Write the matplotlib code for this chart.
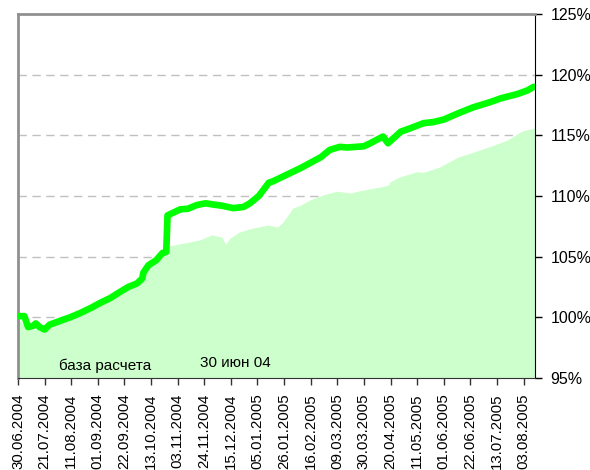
import numpy as np
import pandas as pd
import matplotlib
matplotlib.use('Agg')
from matplotlib import pyplot as plt
import matplotlib.dates as mdates
from matplotlib.ticker import FixedLocator, FuncFormatter

# green line (fund value, % of base)
line_dates = ['2004-06-30','2004-07-05','2004-07-08','2004-07-12','2004-07-14','2004-07-17',
              '2004-07-21','2004-07-25','2004-08-02','2004-08-10','2004-08-18','2004-08-27',
              '2004-09-03','2004-09-11','2004-09-17','2004-09-25','2004-10-02','2004-10-06',
              '2004-10-07','2004-10-11','2004-10-17','2004-10-22','2004-10-25','2004-10-26',
              '2004-10-28','2004-11-05','2004-11-11','2004-11-18','2004-11-25','2004-12-01',
              '2004-12-08','2004-12-17','2004-12-25','2004-12-30','2005-01-06','2005-01-14',
              '2005-01-17','2005-01-25','2005-02-02','2005-02-08','2005-02-24','2005-03-03',
              '2005-03-11','2005-03-17','2005-03-30','2005-04-04','2005-04-14','2005-04-18',
              '2005-04-28','2005-05-06','2005-05-16','2005-05-24','2005-06-01','2005-06-12',
              '2005-06-24','2005-07-08','2005-07-16','2005-07-29','2005-08-06','2005-08-11']
line_vals  = [100.1, 100.1, 99.2, 99.3, 99.5, 99.2,
              99.0, 99.4, 99.7, 100.0, 100.35, 100.8,
              101.2, 101.6, 102.0, 102.5, 102.8, 103.2,
              103.7, 104.3, 104.7, 105.3, 105.4, 108.4,
              108.5, 108.9, 108.95, 109.25, 109.4, 109.3,
              109.2, 109.0, 109.1, 109.4, 110.0, 111.1,
              111.2, 111.6, 112.0, 112.3, 113.2, 113.8,
              114.05, 114.0, 114.1, 114.35, 114.9, 114.35,
              115.3, 115.6, 116.0, 116.1, 116.3, 116.8,
              117.3, 117.75, 118.05, 118.4, 118.7, 119.0]

# light green area (benchmark)
area_dates = ['2004-06-30','2004-07-08','2004-07-21','2004-08-02','2004-08-18','2004-09-03',
              '2004-09-17','2004-10-02','2004-10-07','2004-10-17','2004-10-25','2004-10-28',
              '2004-11-07','2004-11-21','2004-11-30','2004-12-08','2004-12-11','2004-12-14',
              '2004-12-21','2004-12-30','2005-01-13','2005-01-21','2005-01-25','2005-02-02',
              '2005-02-08','2005-02-16','2005-02-26','2005-03-09','2005-03-19','2005-03-30',
              '2005-04-12','2005-04-18','2005-04-20','2005-04-28','2005-05-11','2005-05-16',
              '2005-05-29','2005-06-12','2005-06-24','2005-07-08','2005-07-21','2005-08-01',
              '2005-08-03','2005-08-12']
area_vals  = [99.9, 99.0, 99.1, 99.9, 100.6, 101.4,
              102.2, 103.0, 103.9, 104.9, 105.8, 105.9,
              106.1, 106.4, 106.8, 106.6, 106.0, 106.5,
              107.0, 107.3, 107.6, 107.45, 107.85, 109.0,
              109.25, 109.7, 110.1, 110.4, 110.25, 110.5,
              110.75, 110.9, 111.2, 111.6, 112.0, 111.95,
              112.4, 113.2, 113.6, 114.1, 114.6, 115.3,
              115.4, 115.6]

tick_start = '2004-06-30'
n_ticks    = 20
y_ticks    = [95, 100, 105, 110, 115, 120, 125]

ld = pd.to_datetime(line_dates)
ad = pd.to_datetime(area_dates)
xt = pd.date_range(tick_start, periods=n_ticks, freq='21D')

plt.rcParams['font.family'] = ['Liberation Sans', 'DejaVu Sans']

fig = plt.figure(figsize=(5.9, 4.7), dpi=100)
ax  = fig.add_axes([0.0305, 0.1957, 0.8763, 0.7745])

ax.fill_between(ad, 95, area_vals, color='#ccffcc', lw=0, zorder=2)
ax.plot(ld, line_vals, color='#00ff00', lw=4.8, solid_joinstyle='round',
        solid_capstyle='round', zorder=3)

ax.set_ylim(95, 125)
ax.set_xlim(pd.Timestamp(tick_start), pd.Timestamp('2005-08-12'))

for y in y_ticks[1:-1]:
	ax.axhline(y, color='#c0c0c0', lw=1, ls=(0, (6, 4)), zorder=1)

ax.yaxis.tick_right()
ax.yaxis.set_major_locator(FixedLocator(y_ticks))
ax.yaxis.set_major_formatter(FuncFormatter(lambda v, p: '%d%%' % v))
ax.set_xticks(xt)
ax.xaxis.set_major_formatter(mdates.DateFormatter('%d.%m.%Y'))
plt.setp(ax.get_xticklabels(), rotation=90)
ax.tick_params(axis='y', labelsize=11.5, length=5, width=1, pad=6, color='black')
ax.tick_params(axis='x', labelsize=10.8, length=5, width=1, pad=6, color='#333333')

for s in ['top', 'left']:
	ax.spines[s].set_color('#909090')
	ax.spines[s].set_linewidth(2)
ax.spines['right'].set_color('black')
ax.spines['bottom'].set_color('#333333')

ax.text(0.168, 0.022, 'база расчета', transform=ax.transAxes, ha='center', fontsize=11)
ax.text(0.42, 0.03, '30 июн 04', transform=ax.transAxes, ha='center', fontsize=11)

fig.savefig('out.png', dpi=100)
